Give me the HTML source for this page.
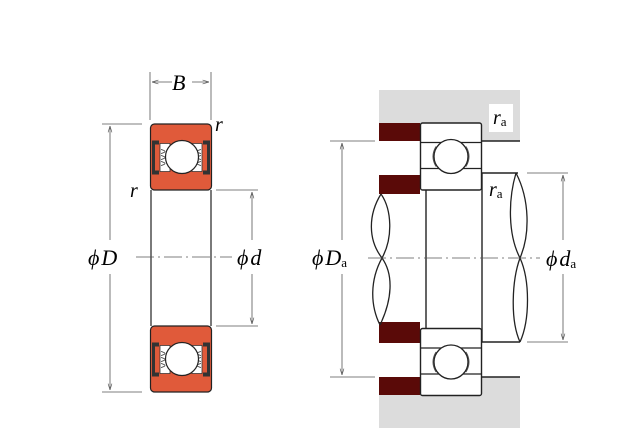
<!DOCTYPE html>
<html><head><style>html,body{margin:0;padding:0;background:#fff}svg{display:block}</style></head>
<body>
<svg width="640" height="440" viewBox="0 0 640 440" xmlns="http://www.w3.org/2000/svg" font-family="Liberation Serif, serif" font-style="italic">
<defs>
<marker id="a" viewBox="0 0 10 10" refX="10" refY="5" markerWidth="8" markerHeight="8" orient="auto-start-reverse"><path d="M0,2 L10,5 L0,8" fill="none" stroke="#555" stroke-width="1"/></marker>
<g id="brg">
<rect x="150.5" y="0.5" width="61" height="66" rx="4" fill="#e05a3a" stroke="#222" stroke-width="1.2"/>
<path d="M152,17 h7 v4 h-4 v26 h4 v4 h-7z" fill="#333"/>
<path d="M210,17 h-7 v4 h4 v26 h-4 v4 h7z" fill="#333"/>
<path d="M160,20 h10 v28 h-10z M192,20 h10 v28 h-10z" fill="#fff" stroke="#333" stroke-width="0.8"/>
<path d="M161,26 q8,2 0,4 M161,32 q8,2 0,4 M161,38 q8,2 0,4 M201,26 q-8,2 0,4 M201,32 q-8,2 0,4 M201,38 q-8,2 0,4" fill="none" stroke="#333" stroke-width="0.8"/>
<circle cx="182" cy="33.5" r="16.5" fill="#fff" stroke="#222" stroke-width="1.2"/>
</g>
<g id="rb">
<rect x="420.5" y="0.5" width="61" height="67" rx="2" fill="#fff" stroke="#222" stroke-width="1.4"/>
<line x1="420" y1="20" x2="482" y2="20" stroke="#222" stroke-width="1.2"/>
<line x1="420" y1="46" x2="482" y2="46" stroke="#222" stroke-width="1.2"/>
<path d="M436,24 q-6,10 0,20 M440,24 q-6,10 0,20 M462,24 q6,10 0,20 M466,24 q6,10 0,20" fill="none" stroke="#555" stroke-width="1"/>
<circle cx="451" cy="34" r="17" fill="#fff" stroke="#222" stroke-width="1.3"/>
</g>
</defs>
<use href="#brg" y="123.5"/>
<use href="#brg" y="325.5"/>
<line x1="151" y1="190" x2="151" y2="326" stroke="#222" stroke-width="1.2"/>
<line x1="211" y1="190" x2="211" y2="326" stroke="#222" stroke-width="1.2"/>
<g stroke="#555" stroke-width="0.8" fill="none">
<line x1="150" y1="72" x2="150" y2="120"/><line x1="211" y1="72" x2="211" y2="120"/>
<line x1="152" y1="82" x2="172" y2="82" marker-start="url(#a)"/><line x1="192" y1="82" x2="209" y2="82" marker-end="url(#a)"/>
<line x1="102" y1="124" x2="142" y2="124"/><line x1="102" y1="392" x2="142" y2="392"/>
<line x1="110" y1="126" x2="110" y2="240" marker-start="url(#a)"/><line x1="110" y1="274" x2="110" y2="390" marker-end="url(#a)"/>
<line x1="216" y1="190" x2="258" y2="190"/><line x1="216" y1="326" x2="258" y2="326"/>
<line x1="252" y1="192" x2="252" y2="240" marker-start="url(#a)"/><line x1="252" y1="274" x2="252" y2="324" marker-end="url(#a)"/>
<line x1="136" y1="257" x2="232" y2="257" stroke-dasharray="18,4,2,4"/>
</g>
<text x="172" y="90" font-size="22">B</text>
<text x="215" y="131" font-size="20">r</text>
<text x="130" y="197" font-size="20">r</text>
<text x="88" y="265" font-size="22">ϕ<tspan dx="2">D</tspan></text>
<text x="237" y="265" font-size="22">ϕ<tspan dx="2">d</tspan></text>
<rect x="379" y="90" width="141" height="51" fill="#dcdcdc"/>
<rect x="379" y="377" width="141" height="51" fill="#dcdcdc"/>
<rect x="489" y="104" width="24" height="28" fill="#fff"/>
<rect x="379" y="123" width="41" height="18" fill="#5a0a08"/>
<rect x="379" y="175" width="41" height="19" fill="#5a0a08"/>
<rect x="379" y="322" width="41" height="21" fill="#5a0a08"/>
<rect x="379" y="377" width="41" height="18" fill="#5a0a08"/>
<path d="M381,194 C368,215 368,240 382,258 C394,275 392,300 380,325" fill="none" stroke="#222" stroke-width="1.3"/>
<path d="M381,194 C392,210 393,238 382,258 C370,280 370,305 380,325" fill="none" stroke="#222" stroke-width="1.3"/>
<path d="M516,173 C530,200 530,235 520,258 C512,280 510,320 520,342" fill="none" stroke="#222" stroke-width="1.3"/>
<path d="M516,173 C508,200 508,235 520,258 C530,280 530,320 520,342" fill="none" stroke="#222" stroke-width="1.3"/>
<g stroke="#222" stroke-width="1.4">
<line x1="426" y1="190" x2="426" y2="329"/><line x1="482" y1="173" x2="482" y2="342"/>
<line x1="482" y1="173" x2="518" y2="173"/><line x1="482" y1="342" x2="520" y2="342"/>
<line x1="482" y1="141" x2="520" y2="141"/><line x1="482" y1="377" x2="520" y2="377"/>
</g>
<use href="#rb" y="122.5"/>
<use href="#rb" y="328"/>
<g stroke="#555" stroke-width="0.8" fill="none">
<line x1="330" y1="141" x2="375" y2="141"/><line x1="330" y1="377" x2="375" y2="377"/>
<line x1="342" y1="143" x2="342" y2="240" marker-start="url(#a)"/><line x1="342" y1="274" x2="342" y2="375" marker-end="url(#a)"/>
<line x1="527" y1="173" x2="568" y2="173"/><line x1="527" y1="342" x2="568" y2="342"/>
<line x1="563" y1="175" x2="563" y2="240" marker-start="url(#a)"/><line x1="563" y1="274" x2="563" y2="340" marker-end="url(#a)"/>
<line x1="368" y1="258" x2="540" y2="258" stroke-dasharray="18,4,2,4"/>
</g>
<text x="493" y="124" font-size="20">r<tspan font-size="13" font-style="normal" dy="2">a</tspan></text>
<text x="489" y="196" font-size="20">r<tspan font-size="13" font-style="normal" dy="2">a</tspan></text>
<text x="312" y="265" font-size="22">ϕ<tspan dx="2">D</tspan><tspan font-size="13" font-style="normal" dy="2">a</tspan></text>
<text x="546" y="266" font-size="22">ϕ<tspan dx="2">d</tspan><tspan font-size="13" font-style="normal" dy="2">a</tspan></text>
</svg>
</body></html>
